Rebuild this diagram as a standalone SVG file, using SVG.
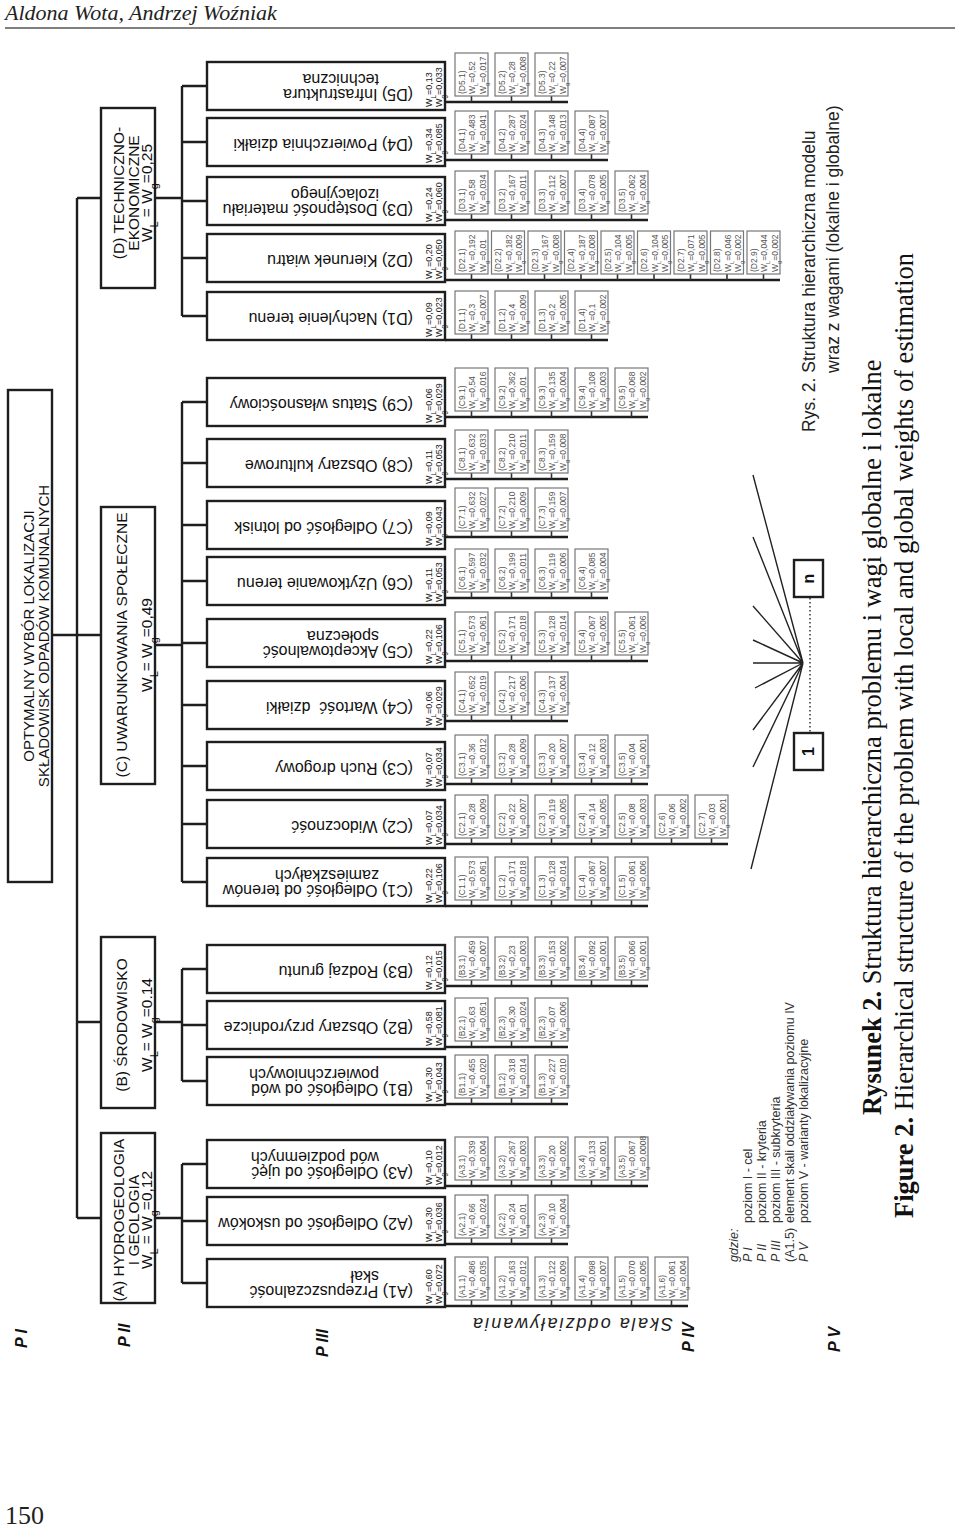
<svg xmlns="http://www.w3.org/2000/svg" width="960" height="1527" viewBox="0 0 960 1527">
<style>
.ln{stroke:#1e1e1e;stroke-width:2.4;fill:none}
.tk{stroke:#333;stroke-width:1.6;fill:none}
.fan{stroke:#222;stroke-width:1.4;fill:none}
.b1{fill:#fff;stroke:#1e1e1e;stroke-width:2.4}
.b4{fill:#fff;stroke:#777;stroke-width:1.2}
.sans{font-family:"Liberation Sans",Arial,sans-serif}
.serif{font-family:"Liberation Serif","Times New Roman",serif}
.t1{font-size:15px;fill:#111}
.t2{font-size:15.5px;fill:#111}
.t3{font-size:16px;fill:#111}
.tw{font-size:9px;fill:#222}
.t4{font-size:8.5px;fill:#555}
.s{font-size:70%;baseline-shift:sub}
.pl{font-size:16px;font-weight:bold;font-style:italic;fill:#111}
.lg{font-size:12.5px;fill:#333}
.cap{font-size:17.5px;fill:#222}
.big{font-size:26.5px;fill:#111}
</style>

<!-- header -->
<text class="serif" x="5" y="20" font-size="22" font-style="italic" fill="#222">Aldona Wota, Andrzej Woźniak</text>
<line x1="5" y1="28" x2="955" y2="28" stroke="#555" stroke-width="1.5"/>
<text class="serif" x="5" y="1524" font-size="26" fill="#222">150</text>

<!-- connectors -->
<g id="connectors">
<path class="ln" d="M52 635H101M77 198V1218M77 198H101M77 1022H101M77 1218H101M155 198H182M155 645H182M155 1022H182M155 1218H182M182 86V316M182 402V882M182 969V1081M182 1164V1283
M182 86H207M182 142H207M182 201H207M182 258H207M182 316H207
M182 402H207M182 463H207M182 525H207M182 581H207M182 643H207M182 705H207M182 766H207M182 824H207M182 882H207
M182 969H207M182 1025H207M182 1081H207M182 1164H207M182 1221H207M182 1283H207
M445 102H568M445 160H608M445 220H648M445 280H780M445 340H608
M445 417H648M445 479H568M445 537H568M445 598H608M445 661H648M445 721H568M445 784H648M445 844H728M445 906H648
M445 986H648M445 1047H568M445 1104H568M445 1186H648M445 1244H568M445 1306H688"/>
<path class="tk" d="M471.5 96V102M511.5 96V102M551.5 96V102
M471.5 154V160M511.5 154V160M551.5 154V160M591.5 154V160
M471.5 214V220M511.5 214V220M551.5 214V220M591.5 214V220M631.5 214V220
M471.5 274V280M508 274V280M544.5 274V280M581 274V280M617.5 274V280M654 274V280M690.5 274V280M727 274V280M763.5 274V280
M471.5 334V340M511.5 334V340M551.5 334V340M591.5 334V340
M471.5 411V417M511.5 411V417M551.5 411V417M591.5 411V417M631.5 411V417
M471.5 473V479M511.5 473V479M551.5 473V479
M471.5 531V537M511.5 531V537M551.5 531V537
M471.5 592V598M511.5 592V598M551.5 592V598M591.5 592V598
M471.5 655V661M511.5 655V661M551.5 655V661M591.5 655V661M631.5 655V661
M471.5 715V721M511.5 715V721M551.5 715V721
M471.5 778V784M511.5 778V784M551.5 778V784M591.5 778V784M631.5 778V784
M471.5 838V844M511.5 838V844M551.5 838V844M591.5 838V844M631.5 838V844M671.5 838V844M711.5 838V844
M471.5 900V906M511.5 900V906M551.5 900V906M591.5 900V906M631.5 900V906
M471.5 980V986M511.5 980V986M551.5 980V986M591.5 980V986M631.5 980V986
M471.5 1041V1047M511.5 1041V1047M551.5 1041V1047
M471.5 1098V1104M511.5 1098V1104M551.5 1098V1104
M471.5 1180V1186M511.5 1180V1186M551.5 1180V1186M591.5 1180V1186M631.5 1180V1186
M471.5 1238V1244M511.5 1238V1244M551.5 1238V1244
M471.5 1300V1306M511.5 1300V1306M551.5 1300V1306M591.5 1300V1306M631.5 1300V1306M671.5 1300V1306"/>
<path class="fan" d="M803 663L753 475M803 663L753 537M803 663L753 606M803 663L753 640M803 663L753 663M803 663L755 688M803 663L753 730M803 663L753 767M803 663L751 869"/>
<line x1="810" y1="598" x2="810" y2="733" stroke="#333" stroke-width="1.5" stroke-dasharray="1.5 2.5"/>
</g>

<!-- level I -->
<g id="goal">
<rect class="b1" x="8" y="390" width="44" height="492"/>
<text class="sans t1" text-anchor="middle" transform="translate(34 636) rotate(-90)"><tspan x="0" y="0">OPTYMALNY WYBÓR LOKALIZACJI</tspan><tspan x="0" y="15">SKŁADOWISK ODPADÓW KOMUNALNYCH</tspan></text>
</g>

<!-- level II -->
<g id="D">
<rect class="b1" x="101" y="108" width="54" height="180"/>
<text class="sans t2" text-anchor="middle" transform="translate(124 193) rotate(-90)"><tspan x="0" y="0">(D) TECHNICZNO-</tspan><tspan x="0" y="14.5">EKONOMICZNE</tspan><tspan x="0" y="27.5">W<tspan class="s">L</tspan> = W<tspan class="s">g</tspan>=0,25</tspan></text>
</g>
<g id="C">
<rect class="b1" x="101" y="507" width="54" height="277"/>
<text class="sans t2" text-anchor="middle" transform="translate(127 645) rotate(-90)"><tspan x="0" y="0">(C) UWARUNKOWANIA SPOŁECZNE</tspan><tspan x="0" y="24.5">W<tspan class="s">L</tspan>= W<tspan class="s">g</tspan>=0,49</tspan></text>
</g>
<g id="B">
<rect class="b1" x="101" y="937" width="54" height="171"/>
<text class="sans t2" text-anchor="middle" transform="translate(127 1025) rotate(-90)"><tspan x="0" y="0">(B) ŚRODOWISKO</tspan><tspan x="0" y="24.5">W<tspan class="s">L</tspan>= W<tspan class="s">g</tspan>=0.14</tspan></text>
</g>
<g id="A">
<rect class="b1" x="101" y="1133" width="54" height="170"/>
<text class="sans t2" text-anchor="middle" transform="translate(124 1220) rotate(-90)"><tspan x="0" y="0">(A) HYDROGEOLOGIA</tspan><tspan x="0" y="14.5">I GEOLOGIA</tspan><tspan x="0" y="27.5">W<tspan class="s">L</tspan> = W<tspan class="s">g</tspan>=0,12</tspan></text>
</g>

<!-- level III -->
<g id="D5"><rect class="b1" x="207" y="62" width="238" height="48"/>
<text class="sans t3" x="413" y="89" transform="rotate(180 413 89)">(D5) Infrastruktura</text><text class="sans t3" x="379" y="73.5" transform="rotate(180 379 73.5)">techniczna</text>
<text class="sans tw" transform="translate(431.5 107) rotate(-90)"><tspan x="0" y="0">W<tspan class="s">L</tspan>=0,13</tspan><tspan x="0" y="10.5">W<tspan class="s">g</tspan>=0,033</tspan></text></g>
<g id="D4"><rect class="b1" x="207" y="118" width="238" height="48"/>
<text class="sans t3" x="413" y="138.5" transform="rotate(180 413 138.5)">(D4) Powierzchnia działki</text>
<text class="sans tw" transform="translate(431.5 163) rotate(-90)"><tspan x="0" y="0">W<tspan class="s">L</tspan>=0,34</tspan><tspan x="0" y="10.5">W<tspan class="s">g</tspan>=0,085</tspan></text></g>
<g id="D3"><rect class="b1" x="207" y="177" width="238" height="48"/>
<text class="sans t3" x="413" y="204" transform="rotate(180 413 204)">(D3) Dostępność materiału</text><text class="sans t3" x="379" y="188.5" transform="rotate(180 379 188.5)">izolacyjnego</text>
<text class="sans tw" transform="translate(431.5 222) rotate(-90)"><tspan x="0" y="0">W<tspan class="s">L</tspan>=0,24</tspan><tspan x="0" y="10.5">W<tspan class="s">g</tspan>=0,060</tspan></text></g>
<g id="D2"><rect class="b1" x="207" y="234" width="238" height="48"/>
<text class="sans t3" x="413" y="254.5" transform="rotate(180 413 254.5)">(D2) Kierunek wiatru</text>
<text class="sans tw" transform="translate(431.5 279) rotate(-90)"><tspan x="0" y="0">W<tspan class="s">L</tspan>=0,20</tspan><tspan x="0" y="10.5">W<tspan class="s">g</tspan>=0,050</tspan></text></g>
<g id="D1"><rect class="b1" x="207" y="292" width="238" height="48"/>
<text class="sans t3" x="413" y="312.5" transform="rotate(180 413 312.5)">(D1) Nachylenie terenu</text>
<text class="sans tw" transform="translate(431.5 337) rotate(-90)"><tspan x="0" y="0">W<tspan class="s">L</tspan>=0,09</tspan><tspan x="0" y="10.5">W<tspan class="s">g</tspan>=0,023</tspan></text></g>

<g id="C9"><rect class="b1" x="207" y="378" width="238" height="48"/>
<text class="sans t3" x="413" y="398.5" transform="rotate(180 413 398.5)">(C9) Status własnościowy</text>
<text class="sans tw" transform="translate(431.5 423) rotate(-90)"><tspan x="0" y="0">W<tspan class="s">L</tspan>=0,06</tspan><tspan x="0" y="10.5">W<tspan class="s">g</tspan>=0,029</tspan></text></g>
<g id="C8"><rect class="b1" x="207" y="439" width="238" height="48"/>
<text class="sans t3" x="413" y="459.5" transform="rotate(180 413 459.5)">(C8) Obszary kulturowe</text>
<text class="sans tw" transform="translate(431.5 484) rotate(-90)"><tspan x="0" y="0">W<tspan class="s">L</tspan>=0,11</tspan><tspan x="0" y="10.5">W<tspan class="s">g</tspan>=0,053</tspan></text></g>
<g id="C7"><rect class="b1" x="207" y="501" width="238" height="48"/>
<text class="sans t3" x="413" y="521.5" transform="rotate(180 413 521.5)">(C7) Odległość od lotnisk</text>
<text class="sans tw" transform="translate(431.5 546) rotate(-90)"><tspan x="0" y="0">W<tspan class="s">L</tspan>=0,09</tspan><tspan x="0" y="10.5">W<tspan class="s">g</tspan>=0,043</tspan></text></g>
<g id="C6"><rect class="b1" x="207" y="557" width="238" height="48"/>
<text class="sans t3" x="413" y="577.5" transform="rotate(180 413 577.5)">(C6) Użytkowanie terenu</text>
<text class="sans tw" transform="translate(431.5 602) rotate(-90)"><tspan x="0" y="0">W<tspan class="s">L</tspan>=0,11</tspan><tspan x="0" y="10.5">W<tspan class="s">g</tspan>=0,053</tspan></text></g>
<g id="C5"><rect class="b1" x="207" y="619" width="238" height="48"/>
<text class="sans t3" x="413" y="646" transform="rotate(180 413 646)">(C5) Akceptowalność</text><text class="sans t3" x="379" y="630.5" transform="rotate(180 379 630.5)">społeczna</text>
<text class="sans tw" transform="translate(431.5 664) rotate(-90)"><tspan x="0" y="0">W<tspan class="s">L</tspan>=0,22</tspan><tspan x="0" y="10.5">W<tspan class="s">g</tspan>=0,106</tspan></text></g>
<g id="C4"><rect class="b1" x="207" y="681" width="238" height="48"/>
<text class="sans t3" x="413" y="701.5" transform="rotate(180 413 701.5)">(C4) Wartość&#160; działki</text>
<text class="sans tw" transform="translate(431.5 726) rotate(-90)"><tspan x="0" y="0">W<tspan class="s">L</tspan>=0,06</tspan><tspan x="0" y="10.5">W<tspan class="s">g</tspan>=0,029</tspan></text></g>
<g id="C3"><rect class="b1" x="207" y="742" width="238" height="48"/>
<text class="sans t3" x="413" y="762.5" transform="rotate(180 413 762.5)">(C3) Ruch drogowy</text>
<text class="sans tw" transform="translate(431.5 787) rotate(-90)"><tspan x="0" y="0">W<tspan class="s">L</tspan>=0,07</tspan><tspan x="0" y="10.5">W<tspan class="s">g</tspan>=0,034</tspan></text></g>
<g id="C2"><rect class="b1" x="207" y="800" width="238" height="48"/>
<text class="sans t3" x="413" y="820.5" transform="rotate(180 413 820.5)">(C2) Widoczność</text>
<text class="sans tw" transform="translate(431.5 845) rotate(-90)"><tspan x="0" y="0">W<tspan class="s">L</tspan>=0,07</tspan><tspan x="0" y="10.5">W<tspan class="s">g</tspan>=0,034</tspan></text></g>
<g id="C1"><rect class="b1" x="207" y="858" width="238" height="48"/>
<text class="sans t3" x="413" y="885" transform="rotate(180 413 885)">(C1) Odległość od terenów</text><text class="sans t3" x="379" y="869.5" transform="rotate(180 379 869.5)">zamieszkałych</text>
<text class="sans tw" transform="translate(431.5 903) rotate(-90)"><tspan x="0" y="0">W<tspan class="s">L</tspan>=0,22</tspan><tspan x="0" y="10.5">W<tspan class="s">g</tspan>=0,106</tspan></text></g>

<g id="B3"><rect class="b1" x="207" y="945" width="238" height="48"/>
<text class="sans t3" x="413" y="965.5" transform="rotate(180 413 965.5)">(B3) Rodzaj gruntu</text>
<text class="sans tw" transform="translate(431.5 990) rotate(-90)"><tspan x="0" y="0">W<tspan class="s">L</tspan>=0,12</tspan><tspan x="0" y="10.5">W<tspan class="s">g</tspan>=0,015</tspan></text></g>
<g id="B2"><rect class="b1" x="207" y="1001" width="238" height="48"/>
<text class="sans t3" x="413" y="1021.5" transform="rotate(180 413 1021.5)">(B2) Obszary przyrodnicze</text>
<text class="sans tw" transform="translate(431.5 1046) rotate(-90)"><tspan x="0" y="0">W<tspan class="s">L</tspan>=0,58</tspan><tspan x="0" y="10.5">W<tspan class="s">g</tspan>=0,081</tspan></text></g>
<g id="B1"><rect class="b1" x="207" y="1057" width="238" height="48"/>
<text class="sans t3" x="413" y="1084" transform="rotate(180 413 1084)">(B1) Odległość od wód</text><text class="sans t3" x="379" y="1068.5" transform="rotate(180 379 1068.5)">powierzchniowych</text>
<text class="sans tw" transform="translate(431.5 1102) rotate(-90)"><tspan x="0" y="0">W<tspan class="s">L</tspan>=0,30</tspan><tspan x="0" y="10.5">W<tspan class="s">g</tspan>=0,043</tspan></text></g>

<g id="A3"><rect class="b1" x="207" y="1140" width="238" height="48"/>
<text class="sans t3" x="413" y="1167" transform="rotate(180 413 1167)">(A3) Odległość od ujęć</text><text class="sans t3" x="379" y="1151.5" transform="rotate(180 379 1151.5)">wód podziemnych</text>
<text class="sans tw" transform="translate(431.5 1185) rotate(-90)"><tspan x="0" y="0">W<tspan class="s">L</tspan>=0,10</tspan><tspan x="0" y="10.5">W<tspan class="s">g</tspan>=0,012</tspan></text></g>
<g id="A2"><rect class="b1" x="207" y="1197" width="238" height="48"/>
<text class="sans t3" x="413" y="1217.5" transform="rotate(180 413 1217.5)">(A2) Odległość od uskoków</text>
<text class="sans tw" transform="translate(431.5 1242) rotate(-90)"><tspan x="0" y="0">W<tspan class="s">L</tspan>=0,30</tspan><tspan x="0" y="10.5">W<tspan class="s">g</tspan>=0,036</tspan></text></g>
<g id="A1"><rect class="b1" x="207" y="1259" width="238" height="48"/>
<text class="sans t3" x="413" y="1286" transform="rotate(180 413 1286)">(A1) Przepuszczalność</text><text class="sans t3" x="379" y="1270.5" transform="rotate(180 379 1270.5)">skał</text>
<text class="sans tw" transform="translate(431.5 1304) rotate(-90)"><tspan x="0" y="0">W<tspan class="s">L</tspan>=0,60</tspan><tspan x="0" y="10.5">W<tspan class="s">g</tspan>=0,072</tspan></text></g>

<!-- level IV -->
<g class="sans t4">
<g id="D5-1" transform="translate(455 96) rotate(-90)"><rect class="b4" width="43" height="33"/><text><tspan x="2" y="9.5">(D5.1)</tspan><tspan x="2" y="20">W<tspan class="s">L</tspan>=0,52</tspan><tspan x="2" y="30.5">W<tspan class="s">g</tspan>=0,017</tspan></text></g>
<g id="D5-2" transform="translate(495 96) rotate(-90)"><rect class="b4" width="43" height="33"/><text><tspan x="2" y="9.5">(D5.2)</tspan><tspan x="2" y="20">W<tspan class="s">L</tspan>=0,28</tspan><tspan x="2" y="30.5">W<tspan class="s">g</tspan>=0,008</tspan></text></g>
<g id="D5-3" transform="translate(535 96) rotate(-90)"><rect class="b4" width="43" height="33"/><text><tspan x="2" y="9.5">(D5.3)</tspan><tspan x="2" y="20">W<tspan class="s">L</tspan>=0,22</tspan><tspan x="2" y="30.5">W<tspan class="s">g</tspan>=0,007</tspan></text></g>

<g id="D4-1" transform="translate(455 154) rotate(-90)"><rect class="b4" width="43" height="33"/><text><tspan x="2" y="9.5">(D4.1)</tspan><tspan x="2" y="20">W<tspan class="s">L</tspan>=0,483</tspan><tspan x="2" y="30.5">W<tspan class="s">g</tspan>=0,041</tspan></text></g>
<g id="D4-2" transform="translate(495 154) rotate(-90)"><rect class="b4" width="43" height="33"/><text><tspan x="2" y="9.5">(D4.2)</tspan><tspan x="2" y="20">W<tspan class="s">L</tspan>=0,287</tspan><tspan x="2" y="30.5">W<tspan class="s">g</tspan>=0,024</tspan></text></g>
<g id="D4-3" transform="translate(535 154) rotate(-90)"><rect class="b4" width="43" height="33"/><text><tspan x="2" y="9.5">(D4.3)</tspan><tspan x="2" y="20">W<tspan class="s">L</tspan>=0,148</tspan><tspan x="2" y="30.5">W<tspan class="s">g</tspan>=0,013</tspan></text></g>
<g id="D4-4" transform="translate(575 154) rotate(-90)"><rect class="b4" width="43" height="33"/><text><tspan x="2" y="9.5">(D4.4)</tspan><tspan x="2" y="20">W<tspan class="s">L</tspan>=0,087</tspan><tspan x="2" y="30.5">W<tspan class="s">g</tspan>=0,007</tspan></text></g>

<g id="D3-1" transform="translate(455 214) rotate(-90)"><rect class="b4" width="43" height="33"/><text><tspan x="2" y="9.5">(D3.1)</tspan><tspan x="2" y="20">W<tspan class="s">L</tspan>=0,58</tspan><tspan x="2" y="30.5">W<tspan class="s">g</tspan>=0,034</tspan></text></g>
<g id="D3-2" transform="translate(495 214) rotate(-90)"><rect class="b4" width="43" height="33"/><text><tspan x="2" y="9.5">(D3.2)</tspan><tspan x="2" y="20">W<tspan class="s">L</tspan>=0,167</tspan><tspan x="2" y="30.5">W<tspan class="s">g</tspan>=0,011</tspan></text></g>
<g id="D3-3" transform="translate(535 214) rotate(-90)"><rect class="b4" width="43" height="33"/><text><tspan x="2" y="9.5">(D3.3)</tspan><tspan x="2" y="20">W<tspan class="s">L</tspan>=0,112</tspan><tspan x="2" y="30.5">W<tspan class="s">g</tspan>=0,007</tspan></text></g>
<g id="D3-4" transform="translate(575 214) rotate(-90)"><rect class="b4" width="43" height="33"/><text><tspan x="2" y="9.5">(D3.4)</tspan><tspan x="2" y="20">W<tspan class="s">L</tspan>=0,078</tspan><tspan x="2" y="30.5">W<tspan class="s">g</tspan>=0,005</tspan></text></g>
<g id="D3-5" transform="translate(615 214) rotate(-90)"><rect class="b4" width="43" height="33"/><text><tspan x="2" y="9.5">(D3.5)</tspan><tspan x="2" y="20">W<tspan class="s">L</tspan>=0,062</tspan><tspan x="2" y="30.5">W<tspan class="s">g</tspan>=0,004</tspan></text></g>

<g id="D2-1" transform="translate(455 274) rotate(-90)"><rect class="b4" width="43" height="33"/><text><tspan x="2" y="9.5">(D2.1)</tspan><tspan x="2" y="20">W<tspan class="s">L</tspan>=0,192</tspan><tspan x="2" y="30.5">W<tspan class="s">g</tspan>=0,01</tspan></text></g>
<g id="D2-2" transform="translate(491.5 274) rotate(-90)"><rect class="b4" width="43" height="33"/><text><tspan x="2" y="9.5">(D2.2)</tspan><tspan x="2" y="20">W<tspan class="s">L</tspan>=0,182</tspan><tspan x="2" y="30.5">W<tspan class="s">g</tspan>=0,009</tspan></text></g>
<g id="D2-3" transform="translate(528 274) rotate(-90)"><rect class="b4" width="43" height="33"/><text><tspan x="2" y="9.5">(D2.3)</tspan><tspan x="2" y="20">W<tspan class="s">L</tspan>=0,167</tspan><tspan x="2" y="30.5">W<tspan class="s">g</tspan>=0,008</tspan></text></g>
<g id="D2-4" transform="translate(564.5 274) rotate(-90)"><rect class="b4" width="43" height="33"/><text><tspan x="2" y="9.5">(D2.4)</tspan><tspan x="2" y="20">W<tspan class="s">L</tspan>=0,187</tspan><tspan x="2" y="30.5">W<tspan class="s">g</tspan>=0,008</tspan></text></g>
<g id="D2-5" transform="translate(601 274) rotate(-90)"><rect class="b4" width="43" height="33"/><text><tspan x="2" y="9.5">(D2.5)</tspan><tspan x="2" y="20">W<tspan class="s">L</tspan>=0,104</tspan><tspan x="2" y="30.5">W<tspan class="s">g</tspan>=0,005</tspan></text></g>
<g id="D2-6" transform="translate(637.5 274) rotate(-90)"><rect class="b4" width="43" height="33"/><text><tspan x="2" y="9.5">(D2.6)</tspan><tspan x="2" y="20">W<tspan class="s">L</tspan>=0,104</tspan><tspan x="2" y="30.5">W<tspan class="s">g</tspan>=0,005</tspan></text></g>
<g id="D2-7" transform="translate(674 274) rotate(-90)"><rect class="b4" width="43" height="33"/><text><tspan x="2" y="9.5">(D2.7)</tspan><tspan x="2" y="20">W<tspan class="s">L</tspan>=0,071</tspan><tspan x="2" y="30.5">W<tspan class="s">g</tspan>=0,005</tspan></text></g>
<g id="D2-8" transform="translate(710.5 274) rotate(-90)"><rect class="b4" width="43" height="33"/><text><tspan x="2" y="9.5">(D2.8)</tspan><tspan x="2" y="20">W<tspan class="s">L</tspan>=0,046</tspan><tspan x="2" y="30.5">W<tspan class="s">g</tspan>=0,002</tspan></text></g>
<g id="D2-9" transform="translate(747 274) rotate(-90)"><rect class="b4" width="43" height="33"/><text><tspan x="2" y="9.5">(D2.9)</tspan><tspan x="2" y="20">W<tspan class="s">L</tspan>=0,044</tspan><tspan x="2" y="30.5">W<tspan class="s">g</tspan>=0,002</tspan></text></g>

<g id="D1-1" transform="translate(455 334) rotate(-90)"><rect class="b4" width="43" height="33"/><text><tspan x="2" y="9.5">(D1.1)</tspan><tspan x="2" y="20">W<tspan class="s">L</tspan>=0,3</tspan><tspan x="2" y="30.5">W<tspan class="s">g</tspan>=0,007</tspan></text></g>
<g id="D1-2" transform="translate(495 334) rotate(-90)"><rect class="b4" width="43" height="33"/><text><tspan x="2" y="9.5">(D1.2)</tspan><tspan x="2" y="20">W<tspan class="s">L</tspan>=0,4</tspan><tspan x="2" y="30.5">W<tspan class="s">g</tspan>=0,009</tspan></text></g>
<g id="D1-3" transform="translate(535 334) rotate(-90)"><rect class="b4" width="43" height="33"/><text><tspan x="2" y="9.5">(D1.3)</tspan><tspan x="2" y="20">W<tspan class="s">L</tspan>=0,2</tspan><tspan x="2" y="30.5">W<tspan class="s">g</tspan>=0,005</tspan></text></g>
<g id="D1-4" transform="translate(575 334) rotate(-90)"><rect class="b4" width="43" height="33"/><text><tspan x="2" y="9.5">(D1.4)</tspan><tspan x="2" y="20">W<tspan class="s">L</tspan>=0,1</tspan><tspan x="2" y="30.5">W<tspan class="s">g</tspan>=0,002</tspan></text></g>

<g id="C9-1" transform="translate(455 411) rotate(-90)"><rect class="b4" width="43" height="33"/><text><tspan x="2" y="9.5">(C9.1)</tspan><tspan x="2" y="20">W<tspan class="s">L</tspan>=0,54</tspan><tspan x="2" y="30.5">W<tspan class="s">g</tspan>=0,016</tspan></text></g>
<g id="C9-2" transform="translate(495 411) rotate(-90)"><rect class="b4" width="43" height="33"/><text><tspan x="2" y="9.5">(C9.2)</tspan><tspan x="2" y="20">W<tspan class="s">L</tspan>=0,362</tspan><tspan x="2" y="30.5">W<tspan class="s">g</tspan>=0,01</tspan></text></g>
<g id="C9-3" transform="translate(535 411) rotate(-90)"><rect class="b4" width="43" height="33"/><text><tspan x="2" y="9.5">(C9.3)</tspan><tspan x="2" y="20">W<tspan class="s">L</tspan>=0,135</tspan><tspan x="2" y="30.5">W<tspan class="s">g</tspan>=0,004</tspan></text></g>
<g id="C9-4" transform="translate(575 411) rotate(-90)"><rect class="b4" width="43" height="33"/><text><tspan x="2" y="9.5">(C9.4)</tspan><tspan x="2" y="20">W<tspan class="s">L</tspan>=0,108</tspan><tspan x="2" y="30.5">W<tspan class="s">g</tspan>=0,003</tspan></text></g>
<g id="C9-5" transform="translate(615 411) rotate(-90)"><rect class="b4" width="43" height="33"/><text><tspan x="2" y="9.5">(C9.5)</tspan><tspan x="2" y="20">W<tspan class="s">L</tspan>=0,068</tspan><tspan x="2" y="30.5">W<tspan class="s">g</tspan>=0,002</tspan></text></g>

<g id="C8-1" transform="translate(455 473) rotate(-90)"><rect class="b4" width="43" height="33"/><text><tspan x="2" y="9.5">(C8.1)</tspan><tspan x="2" y="20">W<tspan class="s">L</tspan>=0,632</tspan><tspan x="2" y="30.5">W<tspan class="s">g</tspan>=0,033</tspan></text></g>
<g id="C8-2" transform="translate(495 473) rotate(-90)"><rect class="b4" width="43" height="33"/><text><tspan x="2" y="9.5">(C8.2)</tspan><tspan x="2" y="20">W<tspan class="s">L</tspan>=0,210</tspan><tspan x="2" y="30.5">W<tspan class="s">g</tspan>=0,011</tspan></text></g>
<g id="C8-3" transform="translate(535 473) rotate(-90)"><rect class="b4" width="43" height="33"/><text><tspan x="2" y="9.5">(C8.3)</tspan><tspan x="2" y="20">W<tspan class="s">L</tspan>=0,159</tspan><tspan x="2" y="30.5">W<tspan class="s">g</tspan>=0,008</tspan></text></g>

<g id="C7-1" transform="translate(455 531) rotate(-90)"><rect class="b4" width="43" height="33"/><text><tspan x="2" y="9.5">(C7.1)</tspan><tspan x="2" y="20">W<tspan class="s">L</tspan>=0,632</tspan><tspan x="2" y="30.5">W<tspan class="s">g</tspan>=0,027</tspan></text></g>
<g id="C7-2" transform="translate(495 531) rotate(-90)"><rect class="b4" width="43" height="33"/><text><tspan x="2" y="9.5">(C7.2)</tspan><tspan x="2" y="20">W<tspan class="s">L</tspan>=0,210</tspan><tspan x="2" y="30.5">W<tspan class="s">g</tspan>=0,009</tspan></text></g>
<g id="C7-3" transform="translate(535 531) rotate(-90)"><rect class="b4" width="43" height="33"/><text><tspan x="2" y="9.5">(C7.3)</tspan><tspan x="2" y="20">W<tspan class="s">L</tspan>=0,159</tspan><tspan x="2" y="30.5">W<tspan class="s">g</tspan>=0,007</tspan></text></g>

<g id="C6-1" transform="translate(455 592) rotate(-90)"><rect class="b4" width="43" height="33"/><text><tspan x="2" y="9.5">(C6.1)</tspan><tspan x="2" y="20">W<tspan class="s">L</tspan>=0,597</tspan><tspan x="2" y="30.5">W<tspan class="s">g</tspan>=0,032</tspan></text></g>
<g id="C6-2" transform="translate(495 592) rotate(-90)"><rect class="b4" width="43" height="33"/><text><tspan x="2" y="9.5">(C6.2)</tspan><tspan x="2" y="20">W<tspan class="s">L</tspan>=0,199</tspan><tspan x="2" y="30.5">W<tspan class="s">g</tspan>=0,011</tspan></text></g>
<g id="C6-3" transform="translate(535 592) rotate(-90)"><rect class="b4" width="43" height="33"/><text><tspan x="2" y="9.5">(C6.3)</tspan><tspan x="2" y="20">W<tspan class="s">L</tspan>=0,119</tspan><tspan x="2" y="30.5">W<tspan class="s">g</tspan>=0,006</tspan></text></g>
<g id="C6-4" transform="translate(575 592) rotate(-90)"><rect class="b4" width="43" height="33"/><text><tspan x="2" y="9.5">(C6.4)</tspan><tspan x="2" y="20">W<tspan class="s">L</tspan>=0,085</tspan><tspan x="2" y="30.5">W<tspan class="s">g</tspan>=0,004</tspan></text></g>

<g id="C5-1" transform="translate(455 655) rotate(-90)"><rect class="b4" width="43" height="33"/><text><tspan x="2" y="9.5">(C5.1)</tspan><tspan x="2" y="20">W<tspan class="s">L</tspan>=0,573</tspan><tspan x="2" y="30.5">W<tspan class="s">g</tspan>=0,061</tspan></text></g>
<g id="C5-2" transform="translate(495 655) rotate(-90)"><rect class="b4" width="43" height="33"/><text><tspan x="2" y="9.5">(C5.2)</tspan><tspan x="2" y="20">W<tspan class="s">L</tspan>=0,171</tspan><tspan x="2" y="30.5">W<tspan class="s">g</tspan>=0,018</tspan></text></g>
<g id="C5-3" transform="translate(535 655) rotate(-90)"><rect class="b4" width="43" height="33"/><text><tspan x="2" y="9.5">(C5.3)</tspan><tspan x="2" y="20">W<tspan class="s">L</tspan>=0,128</tspan><tspan x="2" y="30.5">W<tspan class="s">g</tspan>=0,014</tspan></text></g>
<g id="C5-4" transform="translate(575 655) rotate(-90)"><rect class="b4" width="43" height="33"/><text><tspan x="2" y="9.5">(C5.4)</tspan><tspan x="2" y="20">W<tspan class="s">L</tspan>=0,067</tspan><tspan x="2" y="30.5">W<tspan class="s">g</tspan>=0,005</tspan></text></g>
<g id="C5-5" transform="translate(615 655) rotate(-90)"><rect class="b4" width="43" height="33"/><text><tspan x="2" y="9.5">(C5.5)</tspan><tspan x="2" y="20">W<tspan class="s">L</tspan>=0,061</tspan><tspan x="2" y="30.5">W<tspan class="s">g</tspan>=0,006</tspan></text></g>

<g id="C4-1" transform="translate(455 715) rotate(-90)"><rect class="b4" width="43" height="33"/><text><tspan x="2" y="9.5">(C4.1)</tspan><tspan x="2" y="20">W<tspan class="s">L</tspan>=0,652</tspan><tspan x="2" y="30.5">W<tspan class="s">g</tspan>=0,019</tspan></text></g>
<g id="C4-2" transform="translate(495 715) rotate(-90)"><rect class="b4" width="43" height="33"/><text><tspan x="2" y="9.5">(C4.2)</tspan><tspan x="2" y="20">W<tspan class="s">L</tspan>=0,217</tspan><tspan x="2" y="30.5">W<tspan class="s">g</tspan>=0,006</tspan></text></g>
<g id="C4-3" transform="translate(535 715) rotate(-90)"><rect class="b4" width="43" height="33"/><text><tspan x="2" y="9.5">(C4.3)</tspan><tspan x="2" y="20">W<tspan class="s">L</tspan>=0,137</tspan><tspan x="2" y="30.5">W<tspan class="s">g</tspan>=0,004</tspan></text></g>

<g id="C3-1" transform="translate(455 778) rotate(-90)"><rect class="b4" width="43" height="33"/><text><tspan x="2" y="9.5">(C3.1)</tspan><tspan x="2" y="20">W<tspan class="s">L</tspan>=0,36</tspan><tspan x="2" y="30.5">W<tspan class="s">g</tspan>=0,012</tspan></text></g>
<g id="C3-2" transform="translate(495 778) rotate(-90)"><rect class="b4" width="43" height="33"/><text><tspan x="2" y="9.5">(C3.2)</tspan><tspan x="2" y="20">W<tspan class="s">L</tspan>=0,28</tspan><tspan x="2" y="30.5">W<tspan class="s">g</tspan>=0,009</tspan></text></g>
<g id="C3-3" transform="translate(535 778) rotate(-90)"><rect class="b4" width="43" height="33"/><text><tspan x="2" y="9.5">(C3.3)</tspan><tspan x="2" y="20">W<tspan class="s">L</tspan>=0,20</tspan><tspan x="2" y="30.5">W<tspan class="s">g</tspan>=0,007</tspan></text></g>
<g id="C3-4" transform="translate(575 778) rotate(-90)"><rect class="b4" width="43" height="33"/><text><tspan x="2" y="9.5">(C3.4)</tspan><tspan x="2" y="20">W<tspan class="s">L</tspan>=0,12</tspan><tspan x="2" y="30.5">W<tspan class="s">g</tspan>=0,003</tspan></text></g>
<g id="C3-5" transform="translate(615 778) rotate(-90)"><rect class="b4" width="43" height="33"/><text><tspan x="2" y="9.5">(C3.5)</tspan><tspan x="2" y="20">W<tspan class="s">L</tspan>=0,04</tspan><tspan x="2" y="30.5">W<tspan class="s">g</tspan>=0,001</tspan></text></g>

<g id="C2-1" transform="translate(455 838) rotate(-90)"><rect class="b4" width="43" height="33"/><text><tspan x="2" y="9.5">(C2.1)</tspan><tspan x="2" y="20">W<tspan class="s">L</tspan>=0,28</tspan><tspan x="2" y="30.5">W<tspan class="s">g</tspan>=0,009</tspan></text></g>
<g id="C2-2" transform="translate(495 838) rotate(-90)"><rect class="b4" width="43" height="33"/><text><tspan x="2" y="9.5">(C2.2)</tspan><tspan x="2" y="20">W<tspan class="s">L</tspan>=0,22</tspan><tspan x="2" y="30.5">W<tspan class="s">g</tspan>=0,007</tspan></text></g>
<g id="C2-3" transform="translate(535 838) rotate(-90)"><rect class="b4" width="43" height="33"/><text><tspan x="2" y="9.5">(C2.3)</tspan><tspan x="2" y="20">W<tspan class="s">L</tspan>=0,119</tspan><tspan x="2" y="30.5">W<tspan class="s">g</tspan>=0,005</tspan></text></g>
<g id="C2-4" transform="translate(575 838) rotate(-90)"><rect class="b4" width="43" height="33"/><text><tspan x="2" y="9.5">(C2.4)</tspan><tspan x="2" y="20">W<tspan class="s">L</tspan>=0,14</tspan><tspan x="2" y="30.5">W<tspan class="s">g</tspan>=0,005</tspan></text></g>
<g id="C2-5" transform="translate(615 838) rotate(-90)"><rect class="b4" width="43" height="33"/><text><tspan x="2" y="9.5">(C2.5)</tspan><tspan x="2" y="20">W<tspan class="s">L</tspan>=0,08</tspan><tspan x="2" y="30.5">W<tspan class="s">g</tspan>=0,003</tspan></text></g>
<g id="C2-6" transform="translate(655 838) rotate(-90)"><rect class="b4" width="43" height="33"/><text><tspan x="2" y="9.5">(C2.6)</tspan><tspan x="2" y="20">W<tspan class="s">L</tspan>=0,06</tspan><tspan x="2" y="30.5">W<tspan class="s">g</tspan>=0,002</tspan></text></g>
<g id="C2-7" transform="translate(695 838) rotate(-90)"><rect class="b4" width="43" height="33"/><text><tspan x="2" y="9.5">(C2.7)</tspan><tspan x="2" y="20">W<tspan class="s">L</tspan>=0,03</tspan><tspan x="2" y="30.5">W<tspan class="s">g</tspan>=0,001</tspan></text></g>

<g id="C1-1" transform="translate(455 900) rotate(-90)"><rect class="b4" width="43" height="33"/><text><tspan x="2" y="9.5">(C1.1)</tspan><tspan x="2" y="20">W<tspan class="s">L</tspan>=0,573</tspan><tspan x="2" y="30.5">W<tspan class="s">g</tspan>=0,061</tspan></text></g>
<g id="C1-2" transform="translate(495 900) rotate(-90)"><rect class="b4" width="43" height="33"/><text><tspan x="2" y="9.5">(C1.2)</tspan><tspan x="2" y="20">W<tspan class="s">L</tspan>=0,171</tspan><tspan x="2" y="30.5">W<tspan class="s">g</tspan>=0,018</tspan></text></g>
<g id="C1-3" transform="translate(535 900) rotate(-90)"><rect class="b4" width="43" height="33"/><text><tspan x="2" y="9.5">(C1.3)</tspan><tspan x="2" y="20">W<tspan class="s">L</tspan>=0,128</tspan><tspan x="2" y="30.5">W<tspan class="s">g</tspan>=0,014</tspan></text></g>
<g id="C1-4" transform="translate(575 900) rotate(-90)"><rect class="b4" width="43" height="33"/><text><tspan x="2" y="9.5">(C1.4)</tspan><tspan x="2" y="20">W<tspan class="s">L</tspan>=0,067</tspan><tspan x="2" y="30.5">W<tspan class="s">g</tspan>=0,007</tspan></text></g>
<g id="C1-5" transform="translate(615 900) rotate(-90)"><rect class="b4" width="43" height="33"/><text><tspan x="2" y="9.5">(C1.5)</tspan><tspan x="2" y="20">W<tspan class="s">L</tspan>=0,061</tspan><tspan x="2" y="30.5">W<tspan class="s">g</tspan>=0,006</tspan></text></g>

<g id="B3-1" transform="translate(455 980) rotate(-90)"><rect class="b4" width="43" height="33"/><text><tspan x="2" y="9.5">(B3.1)</tspan><tspan x="2" y="20">W<tspan class="s">L</tspan>=0,459</tspan><tspan x="2" y="30.5">W<tspan class="s">g</tspan>=0,007</tspan></text></g>
<g id="B3-2" transform="translate(495 980) rotate(-90)"><rect class="b4" width="43" height="33"/><text><tspan x="2" y="9.5">(B3.2)</tspan><tspan x="2" y="20">W<tspan class="s">L</tspan>=0,23</tspan><tspan x="2" y="30.5">W<tspan class="s">g</tspan>=0,003</tspan></text></g>
<g id="B3-3" transform="translate(535 980) rotate(-90)"><rect class="b4" width="43" height="33"/><text><tspan x="2" y="9.5">(B3.3)</tspan><tspan x="2" y="20">W<tspan class="s">L</tspan>=0,153</tspan><tspan x="2" y="30.5">W<tspan class="s">g</tspan>=0,002</tspan></text></g>
<g id="B3-4" transform="translate(575 980) rotate(-90)"><rect class="b4" width="43" height="33"/><text><tspan x="2" y="9.5">(B3.4)</tspan><tspan x="2" y="20">W<tspan class="s">L</tspan>=0,092</tspan><tspan x="2" y="30.5">W<tspan class="s">g</tspan>=0,001</tspan></text></g>
<g id="B3-5" transform="translate(615 980) rotate(-90)"><rect class="b4" width="43" height="33"/><text><tspan x="2" y="9.5">(B3.5)</tspan><tspan x="2" y="20">W<tspan class="s">L</tspan>=0,066</tspan><tspan x="2" y="30.5">W<tspan class="s">g</tspan>=0,001</tspan></text></g>

<g id="B2-1" transform="translate(455 1041) rotate(-90)"><rect class="b4" width="43" height="33"/><text><tspan x="2" y="9.5">(B2.1)</tspan><tspan x="2" y="20">W<tspan class="s">L</tspan>=0,63</tspan><tspan x="2" y="30.5">W<tspan class="s">g</tspan>=0,051</tspan></text></g>
<g id="B2-2" transform="translate(495 1041) rotate(-90)"><rect class="b4" width="43" height="33"/><text><tspan x="2" y="9.5">(B2.3)</tspan><tspan x="2" y="20">W<tspan class="s">L</tspan>=0,30</tspan><tspan x="2" y="30.5">W<tspan class="s">g</tspan>=0,024</tspan></text></g>
<g id="B2-3" transform="translate(535 1041) rotate(-90)"><rect class="b4" width="43" height="33"/><text><tspan x="2" y="9.5">(B2.3)</tspan><tspan x="2" y="20">W<tspan class="s">L</tspan>=0,07</tspan><tspan x="2" y="30.5">W<tspan class="s">g</tspan>=0,006</tspan></text></g>

<g id="B1-1" transform="translate(455 1098) rotate(-90)"><rect class="b4" width="43" height="33"/><text><tspan x="2" y="9.5">(B1.1)</tspan><tspan x="2" y="20">W<tspan class="s">L</tspan>=0,455</tspan><tspan x="2" y="30.5">W<tspan class="s">g</tspan>=0,020</tspan></text></g>
<g id="B1-2" transform="translate(495 1098) rotate(-90)"><rect class="b4" width="43" height="33"/><text><tspan x="2" y="9.5">(B1.2)</tspan><tspan x="2" y="20">W<tspan class="s">L</tspan>=0,318</tspan><tspan x="2" y="30.5">W<tspan class="s">g</tspan>=0,014</tspan></text></g>
<g id="B1-3" transform="translate(535 1098) rotate(-90)"><rect class="b4" width="43" height="33"/><text><tspan x="2" y="9.5">(B1.3)</tspan><tspan x="2" y="20">W<tspan class="s">L</tspan>=0,227</tspan><tspan x="2" y="30.5">W<tspan class="s">g</tspan>=0,010</tspan></text></g>

<g id="A3-1" transform="translate(455 1180) rotate(-90)"><rect class="b4" width="43" height="33"/><text><tspan x="2" y="9.5">(A3.1)</tspan><tspan x="2" y="20">W<tspan class="s">L</tspan>=0,339</tspan><tspan x="2" y="30.5">W<tspan class="s">g</tspan>=0,004</tspan></text></g>
<g id="A3-2" transform="translate(495 1180) rotate(-90)"><rect class="b4" width="43" height="33"/><text><tspan x="2" y="9.5">(A3.2)</tspan><tspan x="2" y="20">W<tspan class="s">L</tspan>=0,267</tspan><tspan x="2" y="30.5">W<tspan class="s">g</tspan>=0,003</tspan></text></g>
<g id="A3-3" transform="translate(535 1180) rotate(-90)"><rect class="b4" width="43" height="33"/><text><tspan x="2" y="9.5">(A3.3)</tspan><tspan x="2" y="20">W<tspan class="s">L</tspan>=0,20</tspan><tspan x="2" y="30.5">W<tspan class="s">g</tspan>=0,002</tspan></text></g>
<g id="A3-4" transform="translate(575 1180) rotate(-90)"><rect class="b4" width="43" height="33"/><text><tspan x="2" y="9.5">(A3.4)</tspan><tspan x="2" y="20">W<tspan class="s">L</tspan>=0,133</tspan><tspan x="2" y="30.5">W<tspan class="s">g</tspan>=0,001</tspan></text></g>
<g id="A3-5" transform="translate(615 1180) rotate(-90)"><rect class="b4" width="43" height="33"/><text><tspan x="2" y="9.5">(A3.5)</tspan><tspan x="2" y="20">W<tspan class="s">L</tspan>=0,067</tspan><tspan x="2" y="30.5">W<tspan class="s">g</tspan>=0,0008</tspan></text></g>

<g id="A2-1" transform="translate(455 1238) rotate(-90)"><rect class="b4" width="43" height="33"/><text><tspan x="2" y="9.5">(A2.1)</tspan><tspan x="2" y="20">W<tspan class="s">L</tspan>=0,66</tspan><tspan x="2" y="30.5">W<tspan class="s">g</tspan>=0,024</tspan></text></g>
<g id="A2-2" transform="translate(495 1238) rotate(-90)"><rect class="b4" width="43" height="33"/><text><tspan x="2" y="9.5">(A2.2)</tspan><tspan x="2" y="20">W<tspan class="s">L</tspan>=0,24</tspan><tspan x="2" y="30.5">W<tspan class="s">g</tspan>=0,01</tspan></text></g>
<g id="A2-3" transform="translate(535 1238) rotate(-90)"><rect class="b4" width="43" height="33"/><text><tspan x="2" y="9.5">(A2.3)</tspan><tspan x="2" y="20">W<tspan class="s">L</tspan>=0,10</tspan><tspan x="2" y="30.5">W<tspan class="s">g</tspan>=0,004</tspan></text></g>

<g id="A1-1" transform="translate(455 1300) rotate(-90)"><rect class="b4" width="43" height="33"/><text><tspan x="2" y="9.5">(A1.1)</tspan><tspan x="2" y="20">W<tspan class="s">L</tspan>=0,486</tspan><tspan x="2" y="30.5">W<tspan class="s">g</tspan>=0,035</tspan></text></g>
<g id="A1-2" transform="translate(495 1300) rotate(-90)"><rect class="b4" width="43" height="33"/><text><tspan x="2" y="9.5">(A1.2)</tspan><tspan x="2" y="20">W<tspan class="s">L</tspan>=0,163</tspan><tspan x="2" y="30.5">W<tspan class="s">g</tspan>=0,012</tspan></text></g>
<g id="A1-3" transform="translate(535 1300) rotate(-90)"><rect class="b4" width="43" height="33"/><text><tspan x="2" y="9.5">(A1.3)</tspan><tspan x="2" y="20">W<tspan class="s">L</tspan>=0,122</tspan><tspan x="2" y="30.5">W<tspan class="s">g</tspan>=0,009</tspan></text></g>
<g id="A1-4" transform="translate(575 1300) rotate(-90)"><rect class="b4" width="43" height="33"/><text><tspan x="2" y="9.5">(A1.4)</tspan><tspan x="2" y="20">W<tspan class="s">L</tspan>=0,098</tspan><tspan x="2" y="30.5">W<tspan class="s">g</tspan>=0,007</tspan></text></g>
<g id="A1-5" transform="translate(615 1300) rotate(-90)"><rect class="b4" width="43" height="33"/><text><tspan x="2" y="9.5">(A1.5)</tspan><tspan x="2" y="20">W<tspan class="s">L</tspan>=0,070</tspan><tspan x="2" y="30.5">W<tspan class="s">g</tspan>=0,005</tspan></text></g>
<g id="A1-6" transform="translate(655 1300) rotate(-90)"><rect class="b4" width="43" height="33"/><text><tspan x="2" y="9.5">(A1.6)</tspan><tspan x="2" y="20">W<tspan class="s">L</tspan>=0,061</tspan><tspan x="2" y="30.5">W<tspan class="s">g</tspan>=0,004</tspan></text></g>
</g>

<!-- level V -->
<g id="V-n"><rect class="b1" x="794" y="560" width="29" height="37"/><text class="sans" font-size="16" font-weight="bold" fill="#111" text-anchor="middle" transform="translate(814 578.5) rotate(-90)">n</text></g>
<g id="V-1"><rect class="b1" x="794" y="733" width="29" height="37"/><text class="sans" font-size="16" font-weight="bold" fill="#111" text-anchor="middle" transform="translate(814 751.5) rotate(-90)">1</text></g>

<!-- level labels -->
<g id="levels" class="sans pl">
<text transform="translate(27 1348) rotate(-90)">P I</text>
<text transform="translate(130 1347) rotate(-90)">P II</text>
<text transform="translate(328 1357) rotate(-90)">P III</text>
<text transform="translate(694 1352) rotate(-90)">P IV</text>
<text transform="translate(840 1352) rotate(-90)">P V</text>
</g>
<text class="sans" font-size="18" font-style="italic" fill="#222" x="673" y="1318" textLength="200" transform="rotate(180 673 1318)">Skala oddziaływania</text>

<!-- legend -->
<g id="legend" class="sans lg">
<text transform="translate(738 1262) rotate(-90)" font-style="italic">gdzie:</text>
<text transform="translate(752 1262) rotate(-90)" font-style="italic">P I</text>
<text transform="translate(766 1262) rotate(-90)" font-style="italic">P II</text>
<text transform="translate(780 1262) rotate(-90)" font-style="italic">P III</text>
<text transform="translate(794 1262) rotate(-90)">(A1.5)</text>
<text transform="translate(808 1262) rotate(-90)" font-style="italic">P V</text>
<text transform="translate(752 1223) rotate(-90)">poziom I - cel</text>
<text transform="translate(766 1223) rotate(-90)">poziom II - kryteria</text>
<text transform="translate(780 1223) rotate(-90)">poziom III - subkryteria</text>
<text transform="translate(794 1223) rotate(-90)">element skali oddziaływania poziomu IV</text>
<text transform="translate(808 1223) rotate(-90)">poziom V - warianty lokalizacyjne</text>
</g>

<!-- captions -->
<g id="captions">
<text class="sans cap" transform="translate(815 432) rotate(-90)">Rys. 2. Struktura hierarchiczna modelu</text>
<text class="sans cap" transform="translate(839 373) rotate(-90)">wraz z wagami (lokalne i globalne)</text>
<text class="serif big" transform="translate(881 1115) rotate(-90)"><tspan font-weight="bold">Rysunek 2.</tspan> Struktura hierarchiczna problemu i wagi globalne i lokalne</text>
<text class="serif big" transform="translate(913 1218) rotate(-90)"><tspan font-weight="bold">Figure 2.</tspan> Hierarchical structure of the problem with local and global weights of estimation</text>
</g>
</svg>
